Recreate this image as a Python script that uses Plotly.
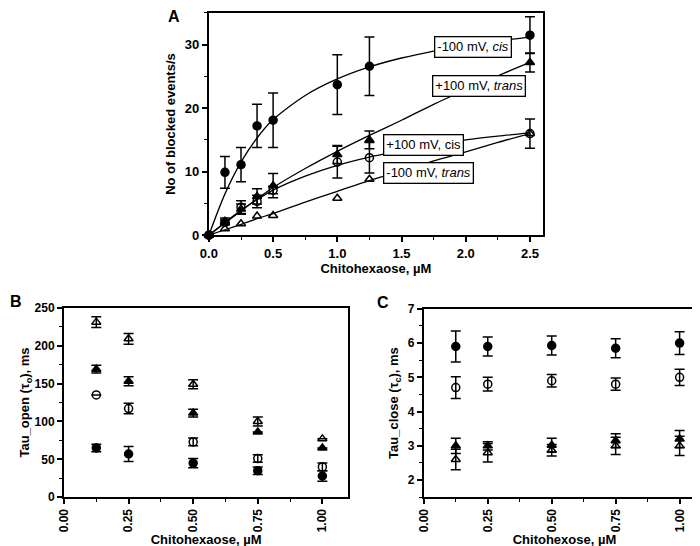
import plotly.graph_objects as go

# ---- panel A: blocking events vs concentration ----
conc_a = [0, 0.125, 0.25, 0.375, 0.5, 1.0, 1.25, 2.5]
neg_cis_a = [0, 9.9, 11.1, 17.2, 18.1, 23.7, 26.6, 31.5]
neg_cis_a_err = [0, 2.5, 2.7, 3.4, 4.3, 4.7, 4.6, 2.9]
pos_trans_a = [0, 2.2, 4.1, 6.1, 7.8, 12.7, 15.0, 27.2]
pos_trans_a_err = [0, 0.5, 0.8, 1.2, 1.9, 1.4, 1.4, 1.5]
pos_cis_a = [0, 2.0, 4.4, 5.3, 7.1, 11.5, 12.2, 16.0]
pos_cis_a_err = [0, 0.4, 1.0, 1.0, 0.6, 2.5, 2.4, 2.3]
neg_trans_a = [0, 1.0, 1.8, 3.0, 3.1, 5.8, 8.8, 16.0]

# fitted curves
fit_x = [0, 0.125, 0.25, 0.375, 0.5, 0.75, 1.0, 1.25, 1.5, 1.75, 2.0, 2.25, 2.5]
fit_neg_cis = [0, 6.5, 11.5, 15.3, 18.2, 22.0, 24.6, 26.5, 27.9, 29.0, 29.9, 30.6, 31.2]
fit_pos_trans = [0, 1.9, 3.8, 5.7, 7.5, 10.5, 13.2, 15.7, 18.1, 20.6, 22.9, 25.1, 27.2]
fit_pos_cis = [0, 2.0, 3.9, 5.6, 7.1, 9.3, 11.0, 12.3, 13.3, 14.2, 15.0, 15.6, 16.1]
fit_neg_trans = [0, 0.85, 1.7, 2.6, 3.4, 5.2, 6.9, 8.6, 10.1, 11.7, 13.1, 14.6, 16.0]

# ---- panels B and C: dwell times ----
conc_bc = [0.125, 0.25, 0.5, 0.75, 1.0]
neg_trans_b = [231, 209, 149, 100, 77]
neg_trans_b_err = [7, 7, 6, 6, 0]
pos_trans_b = [169, 153, 111, 86, 65]
pos_trans_b_err = [5, 6, 5, 0, 0]
pos_cis_b = [135, 117, 73, 51, 40]
pos_cis_b_err = [0, 7, 5, 5, 5]
neg_cis_b = [65, 57, 45, 35, 28]
neg_cis_b_err = [5, 10, 6, 5, 7]

neg_cis_c = [5.9, 5.9, 5.93, 5.85, 6.0]
neg_cis_c_err = [0.45, 0.28, 0.28, 0.28, 0.33]
pos_cis_c = [4.7, 4.8, 4.9, 4.8, 5.0]
pos_cis_c_err = [0.32, 0.2, 0.18, 0.18, 0.24]
pos_trans_c = [3.0, 3.0, 3.02, 3.15, 3.2]
pos_trans_c_err = [0.22, 0.12, 0.2, 0.2, 0.25]
neg_trans_c = [2.6, 2.8, 2.87, 3.0, 3.0]
neg_trans_c_err = [0.3, 0.27, 0.17, 0.25, 0.28]

labels_a = ['-100 mV, <i>cis</i>', '+100 mV, <i>trans</i>', '+100 mV, cis', '-100 mV, <i>trans</i>']
label_x = [2.06, 2.10, 1.67, 1.71]
label_y = [29.7, 23.5, 14.2, 9.8]

FONT = 'Liberation Sans, Arial, sans-serif'
SYMBOLS = {'neg_cis': 'circle', 'pos_cis': 'circle-open',
           'pos_trans': 'triangle-up', 'neg_trans': 'triangle-up-open'}


def pts(x, y, err, sym, xa, ya, size=8):
    tr = go.Scatter(
        x=x, y=y, mode='markers', xaxis=xa, yaxis=ya, cliponaxis=False,
        marker=dict(symbol=sym, size=size, color='black', line=dict(color='black', width=1.5)),
        showlegend=False,
    )
    if err is not None:
        tr.error_y = dict(type='data', array=err, color='black', thickness=1.5, width=5)
    return tr


def fit(y):
    return go.Scatter(x=fit_x, y=y, mode='lines', xaxis='x', yaxis='y',
                      line=dict(color='black', width=1.3, shape='spline', smoothing=0.8),
                      showlegend=False, hoverinfo='skip')


fig = go.Figure()
for y in [fit_neg_cis, fit_pos_trans, fit_pos_cis, fit_neg_trans]:
    fig.add_trace(fit(y))

fig.add_trace(pts(conc_a, neg_trans_a, None, SYMBOLS['neg_trans'], 'x', 'y'))
fig.add_trace(pts(conc_a, pos_cis_a, pos_cis_a_err, SYMBOLS['pos_cis'], 'x', 'y'))
fig.add_trace(pts(conc_a, pos_trans_a, pos_trans_a_err, SYMBOLS['pos_trans'], 'x', 'y'))
fig.add_trace(pts(conc_a, neg_cis_a, neg_cis_a_err, SYMBOLS['neg_cis'], 'x', 'y'))

fig.add_trace(pts(conc_bc, neg_trans_b, neg_trans_b_err, SYMBOLS['neg_trans'], 'x2', 'y2'))
fig.add_trace(pts(conc_bc, pos_trans_b, pos_trans_b_err, SYMBOLS['pos_trans'], 'x2', 'y2'))
fig.add_trace(pts(conc_bc, pos_cis_b, pos_cis_b_err, SYMBOLS['pos_cis'], 'x2', 'y2'))
fig.add_trace(pts(conc_bc, neg_cis_b, neg_cis_b_err, SYMBOLS['neg_cis'], 'x2', 'y2'))

fig.add_trace(pts(conc_bc, neg_trans_c, neg_trans_c_err, SYMBOLS['neg_trans'], 'x3', 'y3'))
fig.add_trace(pts(conc_bc, pos_trans_c, pos_trans_c_err, SYMBOLS['pos_trans'], 'x3', 'y3'))
fig.add_trace(pts(conc_bc, pos_cis_c, pos_cis_c_err, SYMBOLS['pos_cis'], 'x3', 'y3'))
fig.add_trace(pts(conc_bc, neg_cis_c, neg_cis_c_err, SYMBOLS['neg_cis'], 'x3', 'y3'))

axis_common = dict(
    showline=True, linecolor='black', linewidth=2, mirror=True,
    ticks='outside', ticklen=5, tickwidth=1.5, tickcolor='black',
    showgrid=False, zeroline=False, automargin=False,
    tickfont=dict(family=FONT, size=13, color='black', weight='bold'),
    title_font=dict(family=FONT, size=13, color='black', weight='bold'),
)
small_ticks = dict(family=FONT, size=12, color='black', weight='bold')
minor = lambda d: dict(dtick=d, ticks='outside', ticklen=3, tickcolor='black', tickwidth=1.2)

fig.update_layout(
    width=700, height=546, autosize=False,
    margin=dict(l=0, r=0, t=0, b=0),
    paper_bgcolor='white', plot_bgcolor='white',
    font=dict(family=FONT, color='black'),
    xaxis=dict(axis_common, domain=[0.287, 0.764], anchor='y', range=[0, 2.6],
               tick0=0, dtick=0.5, tickformat='.1f', minor=minor(0.25),
               title=dict(text='Chitohexaose, µM', standoff=0)),
    yaxis=dict(axis_common, domain=[0.584, 0.991], anchor='x', range=[0, 35],
               tick0=0, dtick=10, minor=minor(5),
               title=dict(text='No of blocked events/s', standoff=6)),
    xaxis2=dict(axis_common, domain=[0.080, 0.486], anchor='y2', range=[0, 1.1],
                tickvals=[0, 0.25, 0.5, 0.75, 1.0], tickformat='.2f', tickangle=-90,
                tickfont=small_ticks, minor=dict(minor(0.125), tick0=0),
                title=dict(text='Chitohexaose, µM', standoff=0)),
    yaxis2=dict(axis_common, domain=[0.104, 0.451], anchor='x2', range=[0, 250],
                tick0=0, dtick=50, minor=minor(25), tickfont=small_ticks,
                title=dict(text='Tau_open (τ<sub>o</sub>), ms', standoff=2)),
    xaxis3=dict(axis_common, domain=[0.594, 0.996], anchor='y3', range=[0, 1.1],
                tickvals=[0, 0.25, 0.5, 0.75, 1.0], tickformat='.2f', tickangle=-90,
                tickfont=small_ticks, minor=dict(minor(0.125), tick0=0),
                title=dict(text='Chitohexose, µM', standoff=0)),
    yaxis3=dict(axis_common, domain=[0.104, 0.449], anchor='x3', range=[1.5, 7],
                tick0=2, dtick=1, minor=minor(0.5), tickfont=small_ticks,
                title=dict(text='Tau_close (τ<sub>c</sub>), ms', standoff=6)),
)

for text, lx, ly in zip(labels_a, label_x, label_y):
    fig.add_annotation(x=lx, y=ly, xref='x', yref='y', text=text, showarrow=False,
                       font=dict(family=FONT, size=13, color='black'),
                       bgcolor='white', bordercolor='black', borderwidth=1.3, borderpad=2)

for letter, px, py in [('A', 0.226, 1.004), ('B', 0.0, 0.482), ('C', 0.524, 0.48)]:
    fig.add_annotation(x=px, y=py, xref='paper', yref='paper', text=letter, showarrow=False,
                       xanchor='left', yanchor='top',
                       font=dict(family=FONT, size=16, color='black', weight='bold'))

fig.write_html('out.html')
